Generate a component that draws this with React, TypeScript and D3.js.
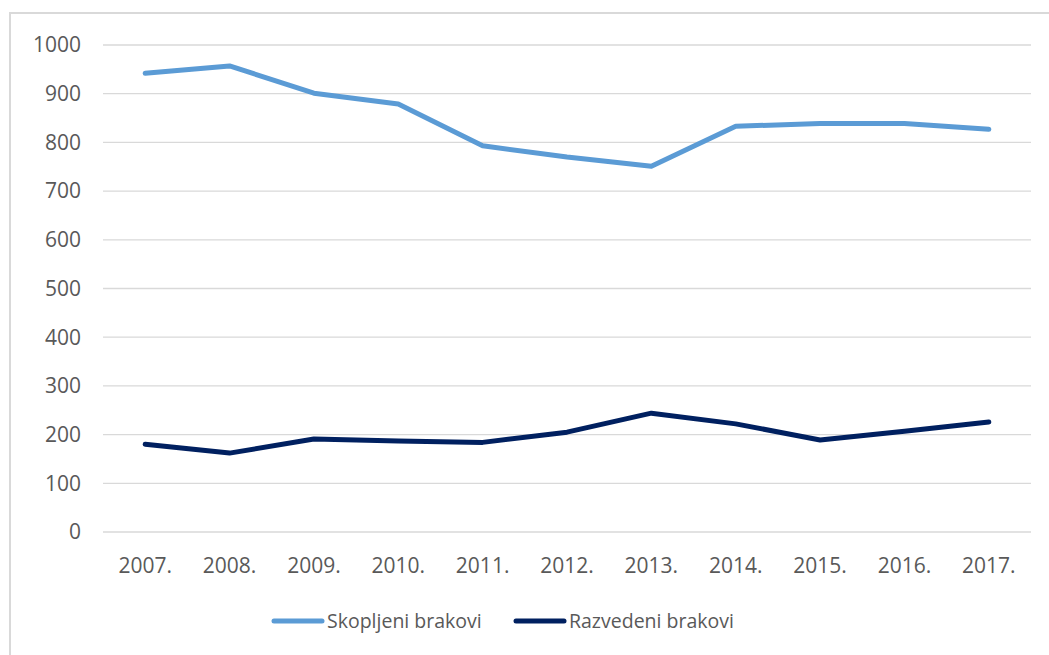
import { useEffect, useRef } from "react";
import * as d3 from "d3";

const years = ["2007.", "2008.", "2009.", "2010.", "2011.", "2012.", "2013.", "2014.", "2015.", "2016.", "2017."];
const skopljeni = [942, 957, 901, 879, 793, 770, 751, 833, 839, 839, 827];
const razvedeni = [180, 162, 191, 187, 184, 205, 244, 222, 189, 207, 226];
const yTicks = [0, 100, 200, 300, 400, 500, 600, 700, 800, 900, 1000];
const seriesNames = ["Skopljeni brakovi", "Razvedeni brakovi"];
const seriesColors = ["#5B9BD5", "#002060"];

export default function App() {
  const chartRef = useRef<SVGSVGElement>(null);

  useEffect(() => {
    const width = 1049;
    const height = 655;
    const margin = { top: 45, right: 18, bottom: 123, left: 103 };
    const font = "'Open Sans', sans-serif";

    const svg = d3.select(chartRef.current);
    svg.selectAll("*").remove();

    // chart frame (only left and top edges visible)
    svg
      .append("rect")
      .attr("x", 10)
      .attr("y", 13)
      .attr("width", width + 20)
      .attr("height", height + 20)
      .attr("fill", "white")
      .attr("stroke", "#d9d9d9")
      .attr("stroke-width", 2);

    const x = d3
      .scaleBand()
      .domain(years)
      .range([margin.left, width - margin.right]);

    const y = d3
      .scaleLinear()
      .domain([0, 1000])
      .range([height - margin.bottom, margin.top]);

    // gridlines
    svg
      .append("g")
      .selectAll("line")
      .data(yTicks)
      .enter()
      .append("line")
      .attr("x1", margin.left)
      .attr("x2", width - margin.right)
      .attr("y1", (d) => y(d))
      .attr("y2", (d) => y(d))
      .attr("stroke", "#d9d9d9")
      .attr("stroke-width", 1.3);

    // y tick labels
    svg
      .append("g")
      .selectAll("text")
      .data(yTicks)
      .enter()
      .append("text")
      .attr("x", 81)
      .attr("y", (d) => y(d))
      .attr("dy", "0.35em")
      .attr("text-anchor", "end")
      .style("font-family", font)
      .style("font-size", "21px")
      .style("fill", "#595959")
      .text((d) => d);

    // x tick labels
    svg
      .append("g")
      .selectAll("text")
      .data(years)
      .enter()
      .append("text")
      .attr("x", (d) => x(d)! + x.bandwidth() / 2)
      .attr("y", height - margin.bottom + 41)
      .attr("text-anchor", "middle")
      .style("font-family", font)
      .style("font-size", "21px")
      .style("fill", "#595959")
      .text((d) => d);

    const line = d3
      .line<number>()
      .x((_, i) => x(years[i])! + x.bandwidth() / 2)
      .y((d) => y(d));

    [skopljeni, razvedeni].forEach((values, i) => {
      svg
        .append("path")
        .datum(values)
        .attr("d", line)
        .attr("fill", "none")
        .attr("stroke", seriesColors[i])
        .attr("stroke-width", 5)
        .attr("stroke-linecap", "round")
        .attr("stroke-linejoin", "round");
    });

    // legend
    const legendX = [274, 516];
    const legend = svg
      .append("g")
      .selectAll("g")
      .data(seriesNames)
      .enter()
      .append("g")
      .attr("transform", (_, i) => `translate(${legendX[i]}, 621)`);

    legend
      .append("line")
      .attr("x1", 0)
      .attr("x2", 48)
      .attr("stroke", (_, i) => seriesColors[i])
      .attr("stroke-width", 5)
      .attr("stroke-linecap", "round");

    legend
      .append("text")
      .attr("x", 53)
      .attr("dy", "0.35em")
      .style("font-family", font)
      .style("font-size", "19.5px")
      .style("fill", "#595959")
      .text((d) => d);
  }, []);

  return (
    <svg
      ref={chartRef}
      width="1049"
      height="655"
      style={{ position: "absolute", left: 0, top: 0, background: "white" }}
    />
  );
}
